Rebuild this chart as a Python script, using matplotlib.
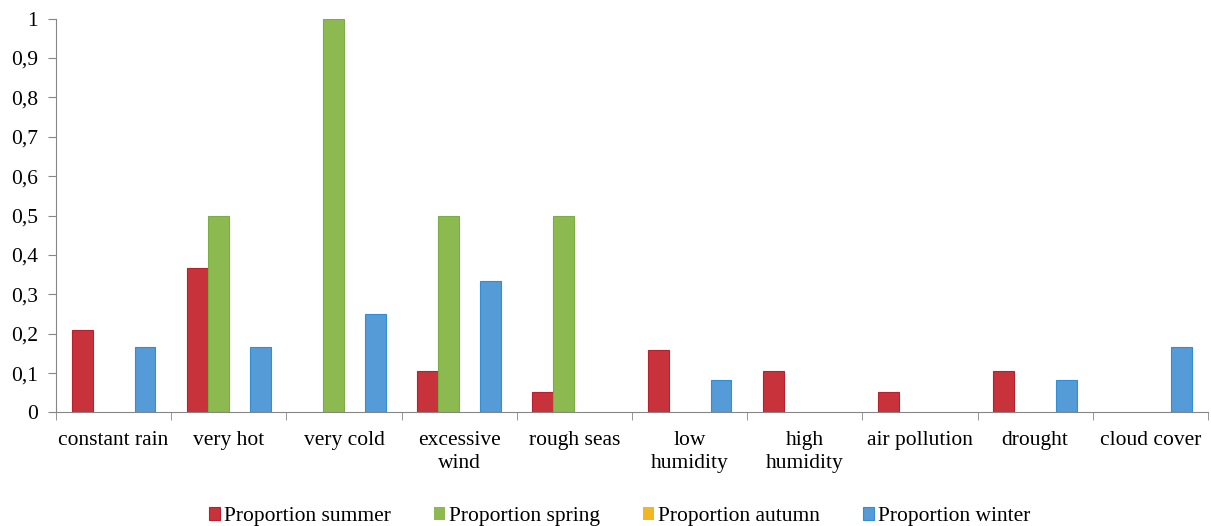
import matplotlib.pyplot as plt
import numpy as np

plt.rcParams['font.family'] = ['Liberation Serif', 'DejaVu Serif']

categories = ['constant rain', 'very hot', 'very cold', 'excessive\nwind', 'rough seas',
              'low\nhumidity', 'high\nhumidity', 'air pollution', 'drought', 'cloud cover']
summer = [0.21, 0.368, 0, 0.105, 0.053, 0.158, 0.105, 0.053, 0.105, 0]
spring = [0, 0.5, 1.0, 0.5, 0.5, 0, 0, 0, 0, 0]
autumn = [0, 0, 0, 0, 0, 0, 0, 0, 0, 0]
winter = [0.167, 0.167, 0.25, 0.333, 0, 0.083, 0, 0, 0.083, 0.167]
series_names = ['Proportion summer', 'Proportion spring', 'Proportion autumn', 'Proportion winter']

fills = ['#C8323A', '#8DBA50', '#F2B524', '#559BD7']
edges = ['#B8202E', '#7AAE44', '#E0A010', '#2F8ED4']

fig = plt.figure(figsize=(12.11, 5.26), dpi=100)
ax = fig.add_axes([0.0462, 0.2158, 0.9513, 0.749])

x = np.arange(len(categories))
w = 0.182
for i, (vals, name) in enumerate(zip([summer, spring, autumn, winter], series_names)):
    # zero-height bars get no edge so nothing shows on the baseline
    lw = [0.8 if v > 0 else 0 for v in vals]
    ax.bar(x + (i - 1.5) * w, vals, w, color=fills[i], edgecolor=edges[i],
           linewidth=lw, label=name, zorder=2)

ax.set_xlim(-0.5, len(categories) - 0.5)
ax.set_ylim(0, 1)

yt = np.round(np.arange(0, 1.01, 0.1), 1)
ax.set_yticks(yt)
ax.set_yticklabels([f'{v:g}'.replace('.', ',') for v in yt], fontsize=15.5)

# labels at category centres, tick marks between categories
ax.set_xticks(x)
ax.set_xticklabels(categories, fontsize=15.5, linespacing=1.35, va='top')
ax.set_xticks(np.arange(-0.5, len(categories)), minor=True)
ax.tick_params(axis='x', which='major', length=0, pad=13)
ax.tick_params(axis='x', which='minor', length=6, color='#868686', direction='out')
ax.tick_params(axis='y', length=6, color='#868686', pad=7)

for s in ['top', 'right']:
    ax.spines[s].set_visible(False)
for s in ['left', 'bottom']:
    ax.spines[s].set_color('#868686')
    ax.spines[s].set_zorder(3)

fig.legend(loc='center', bbox_to_anchor=(0.512, 0.018), ncol=4, frameon=False,
           fontsize=15.5, handlelength=0.5, handleheight=0.5, handletextpad=0.2,
           columnspacing=2.0)

fig.savefig('out.png', dpi=100)
